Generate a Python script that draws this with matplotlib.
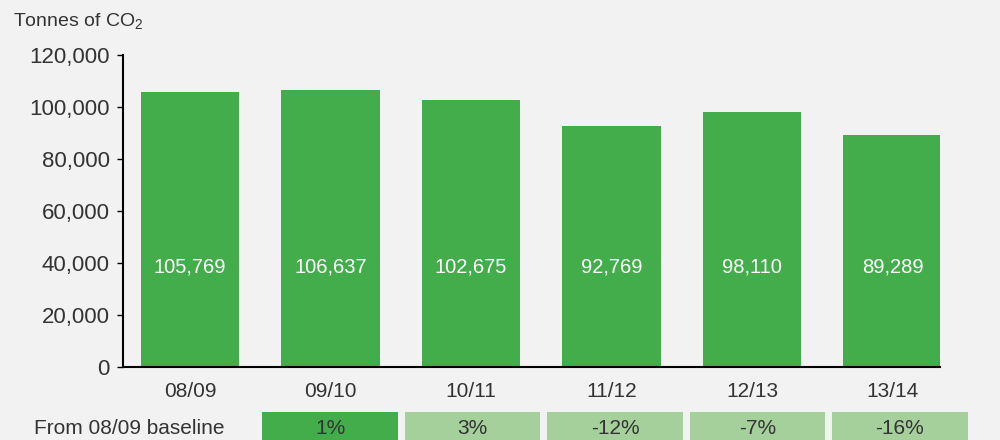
import matplotlib
matplotlib.use("Agg")
import matplotlib.pyplot as plt
from matplotlib.ticker import FuncFormatter

plt.rcParams['font.family'] = ['Liberation Sans', 'DejaVu Sans']
plt.rcParams['mathtext.fontset'] = 'custom'
plt.rcParams['mathtext.rm'] = 'Liberation Sans'
plt.rcParams['mathtext.it'] = 'Liberation Sans'

# data
years = ['08/09', '09/10', '10/11', '11/12', '12/13', '13/14']
emissions = [105769, 106637, 102675, 92769, 98110, 89289]
change_labels = ['1%', '3%', '-12%', '-7%', '-16%']
change_highlight = [True, False, False, False, False]

bg = '#f2f2f2'
green = '#43ad4b'
light_green = '#a5d09c'
text_col = '#333333'

fig = plt.figure(figsize=(10, 4.4), dpi=100, facecolor=bg)
ax = fig.add_axes([0.123, 73 / 440, 0.817, 312 / 440], facecolor=bg)

x = list(range(len(years)))
ax.bar(x, emissions, width=0.70, color=green, zorder=2)
for i, v in enumerate(emissions):
    ax.text(i, 38500, f"{v:,}", color='white', fontsize=14.5,
            ha='center', va='center', zorder=3)

ax.set_xlim(-0.477, 5.338)
ax.set_ylim(0, 120000)
ax.set_yticks(range(0, 120001, 20000))
ax.yaxis.set_major_formatter(FuncFormatter(lambda v, p: f"{int(v):,}"))
ax.set_xticks(x)
ax.set_xticklabels(years)

for s in ['top', 'right']:
    ax.spines[s].set_visible(False)
ax.spines['left'].set_linewidth(1.5)
ax.spines['bottom'].set_linewidth(1.5)
ax.tick_params(axis='y', length=4.5, width=1, pad=5, labelsize=16,
               labelcolor=text_col)
ax.tick_params(axis='x', length=0, pad=11, labelsize=15, labelcolor=text_col)

fig.text(0.013, (440 - 26) / 440, "Tonnes of CO$_2$", fontsize=14,
         color=text_col, ha='left', va='baseline')

# baseline comparison row
ax2 = fig.add_axes([0, -4 / 440, 1, 32 / 440], facecolor='none')
ax2.set_xlim(-1.316, 5.702)
ax2.set_ylim(0, 1)
ax2.axis('off')
pos = list(range(1, len(change_labels) + 1))
cols = [green if h else light_green for h in change_highlight]
ax2.bar(pos, 1, width=0.954, bottom=0, color=cols)
for p, lab in zip(pos, change_labels):
    ax2.text(p, 0.5, lab, ha='center', va='center', fontsize=15, color=text_col)

fig.text(0.034, (440 - 428) / 440, "From 08/09 baseline", fontsize=15,
         color=text_col, ha='left', va='center')

fig.savefig('out.png', dpi=100, facecolor=bg)
